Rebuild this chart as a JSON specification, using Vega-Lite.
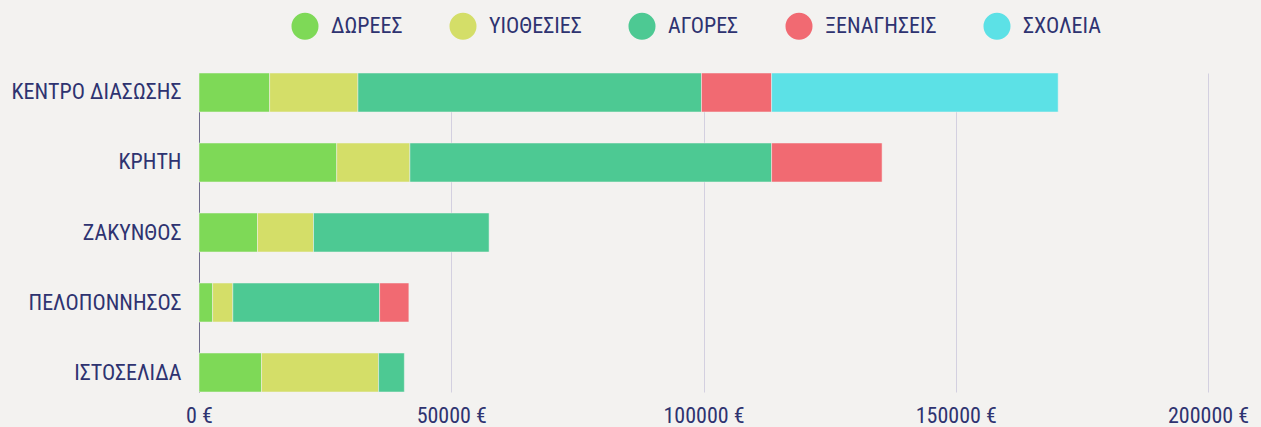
{
  "$schema": "https://vega.github.io/schema/vega-lite/v6.json",
  "autosize": {"type": "none"},
  "padding": {"left": 199, "top": 73, "right": 53, "bottom": 35},
  "width": 1009,
  "height": 319,
  "background": "#f3f2f0",
  "config": {
    "view": {"stroke": null},
    "font": "Roboto Condensed, Open Sans Condensed, Roboto"
  },
  "datasets": {
    "types": [
      {"type": "ΔΩΡΕΕΣ", "rank": 1},
      {"type": "ΥΙΟΘΕΣΙΕΣ", "rank": 2},
      {"type": "ΑΓΟΡΕΣ", "rank": 3},
      {"type": "ΞΕΝΑΓΗΣΕΙΣ", "rank": 4},
      {"type": "ΣΧΟΛΕΙΑ", "rank": 5}
    ]
  },
  "data": {
    "values": [
      {"place": "ΚΕΝΤΡΟ ΔΙΑΣΩΣΗΣ", "type": "ΔΩΡΕΕΣ", "amount": 14000},
      {"place": "ΚΕΝΤΡΟ ΔΙΑΣΩΣΗΣ", "type": "ΥΙΟΘΕΣΙΕΣ", "amount": 17500},
      {"place": "ΚΕΝΤΡΟ ΔΙΑΣΩΣΗΣ", "type": "ΑΓΟΡΕΣ", "amount": 68100},
      {"place": "ΚΕΝΤΡΟ ΔΙΑΣΩΣΗΣ", "type": "ΞΕΝΑΓΗΣΕΙΣ", "amount": 13900},
      {"place": "ΚΕΝΤΡΟ ΔΙΑΣΩΣΗΣ", "type": "ΣΧΟΛΕΙΑ", "amount": 56800},
      {"place": "ΚΡΗΤΗ", "type": "ΔΩΡΕΕΣ", "amount": 27300},
      {"place": "ΚΡΗΤΗ", "type": "ΥΙΟΘΕΣΙΕΣ", "amount": 14500},
      {"place": "ΚΡΗΤΗ", "type": "ΑΓΟΡΕΣ", "amount": 71700},
      {"place": "ΚΡΗΤΗ", "type": "ΞΕΝΑΓΗΣΕΙΣ", "amount": 21900},
      {"place": "ΖΑΚΥΝΘΟΣ", "type": "ΔΩΡΕΕΣ", "amount": 11600},
      {"place": "ΖΑΚΥΝΘΟΣ", "type": "ΥΙΟΘΕΣΙΕΣ", "amount": 11100},
      {"place": "ΖΑΚΥΝΘΟΣ", "type": "ΑΓΟΡΕΣ", "amount": 34800},
      {"place": "ΠΕΛΟΠΟΝΝΗΣΟΣ", "type": "ΔΩΡΕΕΣ", "amount": 2700},
      {"place": "ΠΕΛΟΠΟΝΝΗΣΟΣ", "type": "ΥΙΟΘΕΣΙΕΣ", "amount": 4000},
      {"place": "ΠΕΛΟΠΟΝΝΗΣΟΣ", "type": "ΑΓΟΡΕΣ", "amount": 29100},
      {"place": "ΠΕΛΟΠΟΝΝΗΣΟΣ", "type": "ΞΕΝΑΓΗΣΕΙΣ", "amount": 5800},
      {"place": "ΙΣΤΟΣΕΛΙΔΑ", "type": "ΔΩΡΕΕΣ", "amount": 12400},
      {"place": "ΙΣΤΟΣΕΛΙΔΑ", "type": "ΥΙΟΘΕΣΙΕΣ", "amount": 23200},
      {"place": "ΙΣΤΟΣΕΛΙΔΑ", "type": "ΑΓΟΡΕΣ", "amount": 5100}
    ]
  },
  "transform": [
    {"lookup": "type", "from": {"data": {"name": "types"}, "key": "type", "fields": ["rank"]}}
  ],
  "mark": {"type": "bar", "stroke": "#f3f2f0", "strokeWidth": 0.5},
  "encoding": {
    "y": {
      "field": "place",
      "type": "nominal",
      "sort": ["ΚΕΝΤΡΟ ΔΙΑΣΩΣΗΣ", "ΚΡΗΤΗ", "ΖΑΚΥΝΘΟΣ", "ΠΕΛΟΠΟΝΝΗΣΟΣ", "ΙΣΤΟΣΕΛΙΔΑ"],
      "scale": {"paddingInner": 0.443, "paddingOuter": 0},
      "axis": {
        "title": null,
        "ticks": false,
        "domain": true,
        "domainColor": "#6e6d8c",
        "domainWidth": 1,
        "labelPadding": 18,
        "labelFontSize": 22,
        "labelColor": "#2e3370",
        "labelLimit": 400,
        "grid": false
      }
    },
    "x": {
      "field": "amount",
      "type": "quantitative",
      "stack": "zero",
      "scale": {"domain": [0, 200000], "nice": false},
      "axis": {
        "title": null,
        "values": [0, 50000, 100000, 150000, 200000],
        "labelExpr": "datum.value + ' €'",
        "ticks": false,
        "domain": false,
        "grid": true,
        "gridColor": "#d3d0e0",
        "gridWidth": 1,
        "labelPadding": 13,
        "labelFontSize": 22,
        "labelColor": "#2e3370",
        "labelFlush": false
      }
    },
    "color": {
      "field": "type",
      "type": "nominal",
      "scale": {
        "domain": ["ΔΩΡΕΕΣ", "ΥΙΟΘΕΣΙΕΣ", "ΑΓΟΡΕΣ", "ΞΕΝΑΓΗΣΕΙΣ", "ΣΧΟΛΕΙΑ"],
        "range": ["#7ed957", "#d4de68", "#4dc993", "#f16a72", "#5ce1e6"]
      },
      "legend": {
        "title": null,
        "orient": "none",
        "direction": "horizontal",
        "legendX": 92,
        "legendY": -61,
        "symbolType": "circle",
        "symbolSize": 730,
        "symbolStrokeWidth": 0,
        "labelFontSize": 22,
        "labelColor": "#2e3370",
        "labelOffset": 12,
        "columnPadding": 46,
        "labelLimit": 300
      }
    },
    "order": {"field": "rank", "type": "quantitative", "sort": "ascending"}
  }
}
